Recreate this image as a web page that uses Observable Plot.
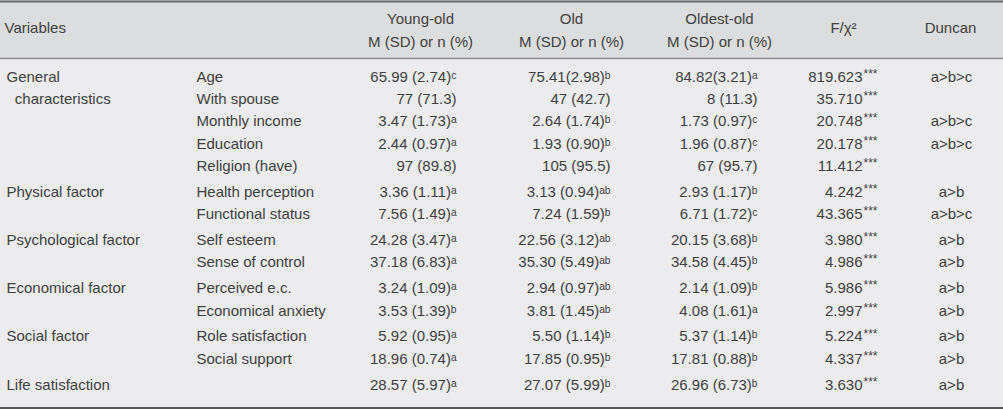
<!DOCTYPE html>
<html><head><meta charset="utf-8">
<script src="https://cdn.jsdelivr.net/npm/d3@7"></script>
<script src="https://cdn.jsdelivr.net/npm/@observablehq/plot@0.6"></script>
<style>
html,body{margin:0;padding:0;background:#ececee;}
</style></head><body><div id="chart"></div>
<script>
// ---- data ----
const factors = ["General\n\u00a0\u00a0characteristics", "Physical factor", "Psychological factor", "Economical factor", "Social factor", "Life satisfaction"];
const rowFactor = [0,0,0,0,0,1,1,2,2,3,3,4,4,5];
const variables = ["Age","With spouse","Monthly income","Education","Religion (have)","Health perception","Functional status","Self esteem","Sense of control","Perceived e.c.","Economical anxiety","Role satisfaction","Social support",""];
const youngOld = ["65.99 (2.74)","77 (71.3)","3.47 (1.73)","2.44 (0.97)","97 (89.8)","3.36 (1.11)","7.56 (1.49)","24.28 (3.47)","37.18 (6.83)","3.24 (1.09)","3.53 (1.39)","5.92 (0.95)","18.96 (0.74)","28.57 (5.97)"];
const youngOldSup = ["c","","a","a","","a","a","a","a","a","b","a","a","a"];
const old = ["75.41(2.98)","47 (42.7)","2.64 (1.74)","1.93 (0.90)","105 (95.5)","3.13 (0.94)","7.24 (1.59)","22.56 (3.12)","35.30 (5.49)","2.94 (0.97)","3.81 (1.45)","5.50 (1.14)","17.85 (0.95)","27.07 (5.99)"];
const oldSup = ["b","","b","b","","ab","b","ab","ab","ab","ab","b","b","b"];
const oldestOld = ["84.82(3.21)","8 (11.3)","1.73 (0.97)","1.96 (0.87)","67 (95.7)","2.93 (1.17)","6.71 (1.72)","20.15 (3.68)","34.58 (4.45)","2.14 (1.09)","4.08 (1.61)","5.37 (1.14)","17.81 (0.88)","26.96 (6.73)"];
const oldestOldSup = ["a","","c","c","","b","c","b","b","b","a","b","b","b"];
const fStat = ["819.623","35.710","20.748","20.178","11.412","4.242","43.365","3.980","4.986","5.986","2.997","5.224","4.337","3.630"];
const fSig = ["***","***","***","***","***","***","***","***","***","***","***","***","***","***"];
const duncan = ["a>b>c","","a>b>c","a>b>c","","a>b","a>b>c","a>b","a>b","a>b","a>b","a>b","a>b","a>b"];
const headerTop = ["Variables","Young-old","Old","Oldest-old","F/\u03c7\u00b2","Duncan"];
const headerSub = ["","M (SD) or n (%)","M (SD) or n (%)","M (SD) or n (%)","",""];

// ---- layout ----
const W = 1003, H = 409;
const rowY = variables.map((_, i) => i + rowFactor[i] * 0.161);
const px = p => (p - 76.5) / 22.3; // pixel -> row units
const colX = {factor: 6, variable: 196, young: 456, old: 610, oldest: 757, f: 862, sig: 863, duncan: 951};
const headX = [4, 420, 571, 719, 843, 950];
const supMap = {a: "\u1d43", b: "\u1d47", c: "\u1d9c"};
const sup = s => s.split("").map(ch => supMap[ch] || ch).join("");

const rows = variables.map((v, i) => ({
  y: rowY[i], variable: v,
  young: youngOld[i] + sup(youngOldSup[i]),
  old: old[i] + sup(oldSup[i]),
  oldest: oldestOld[i] + sup(oldestOldSup[i]),
  f: fStat[i], sig: fSig[i], duncan: duncan[i]
}));
const factorRows = factors.map((f, k) => ({label: f, y: rowY[rowFactor.indexOf(k)]}));
const heads = headerTop.map((t, k) => ({top: t, sub: headerSub[k], x: headX[k], anchor: k === 0 ? "start" : "middle"}));

const ink = "#404040";
const font = "'Liberation Sans', Arial, sans-serif";
const common = {fill: ink, fontSize: 15};

const chart = Plot.plot({
  width: W, height: H, margin: 0,
  x: {type: "identity", axis: null},
  y: {domain: [px(0), px(H)], range: [0, H], axis: null},
  style: {background: "#ececee", fontFamily: font, color: ink},
  marks: [
    Plot.rect([0], {x1: 0, x2: W, y1: px(0), y2: px(58), fill: "#dcdddf"}),
    Plot.ruleY([px(1)], {stroke: "#6a6a6a", strokeWidth: 2}),
    Plot.ruleY([px(58)], {stroke: "#8a8a8a", strokeWidth: 1.5}),
    Plot.ruleY([px(407.5)], {stroke: "#555", strokeWidth: 2}),
    // header
    Plot.text(heads.filter(d => !d.sub && d.anchor === "start"), {x: "x", y: px(28), text: "top", textAnchor: "start", ...common}),
    Plot.text(heads.filter(d => !d.sub && d.anchor === "middle"), {x: "x", y: px(28), text: "top", textAnchor: "middle", ...common}),
    Plot.text(heads.filter(d => d.sub), {x: "x", y: px(19), text: "top", textAnchor: "middle", ...common}),
    Plot.text(heads.filter(d => d.sub), {x: "x", y: px(41.5), text: "sub", textAnchor: "middle", ...common}),
    // body
    Plot.text(factorRows, {x: colX.factor, y: "y", text: "label", textAnchor: "start", lineAnchor: "top", dy: -11, lineHeight: 1.487, ...common}),
    Plot.text(rows, {x: colX.variable, y: "y", text: "variable", textAnchor: "start", ...common}),
    Plot.text(rows, {x: colX.young, y: "y", text: "young", textAnchor: "end", ...common}),
    Plot.text(rows, {x: colX.old, y: "y", text: "old", textAnchor: "end", ...common}),
    Plot.text(rows, {x: colX.oldest, y: "y", text: "oldest", textAnchor: "end", ...common}),
    Plot.text(rows, {x: colX.f, y: "y", text: "f", textAnchor: "end", ...common}),
    Plot.text(rows, {x: colX.sig, y: "y", text: "sig", textAnchor: "start", fill: ink, fontSize: 12, dy: -3}),
    Plot.text(rows, {x: colX.duncan, y: "y", text: "duncan", textAnchor: "middle", ...common})
  ]
});
document.getElementById("chart").appendChild(chart);
</script></body></html>
